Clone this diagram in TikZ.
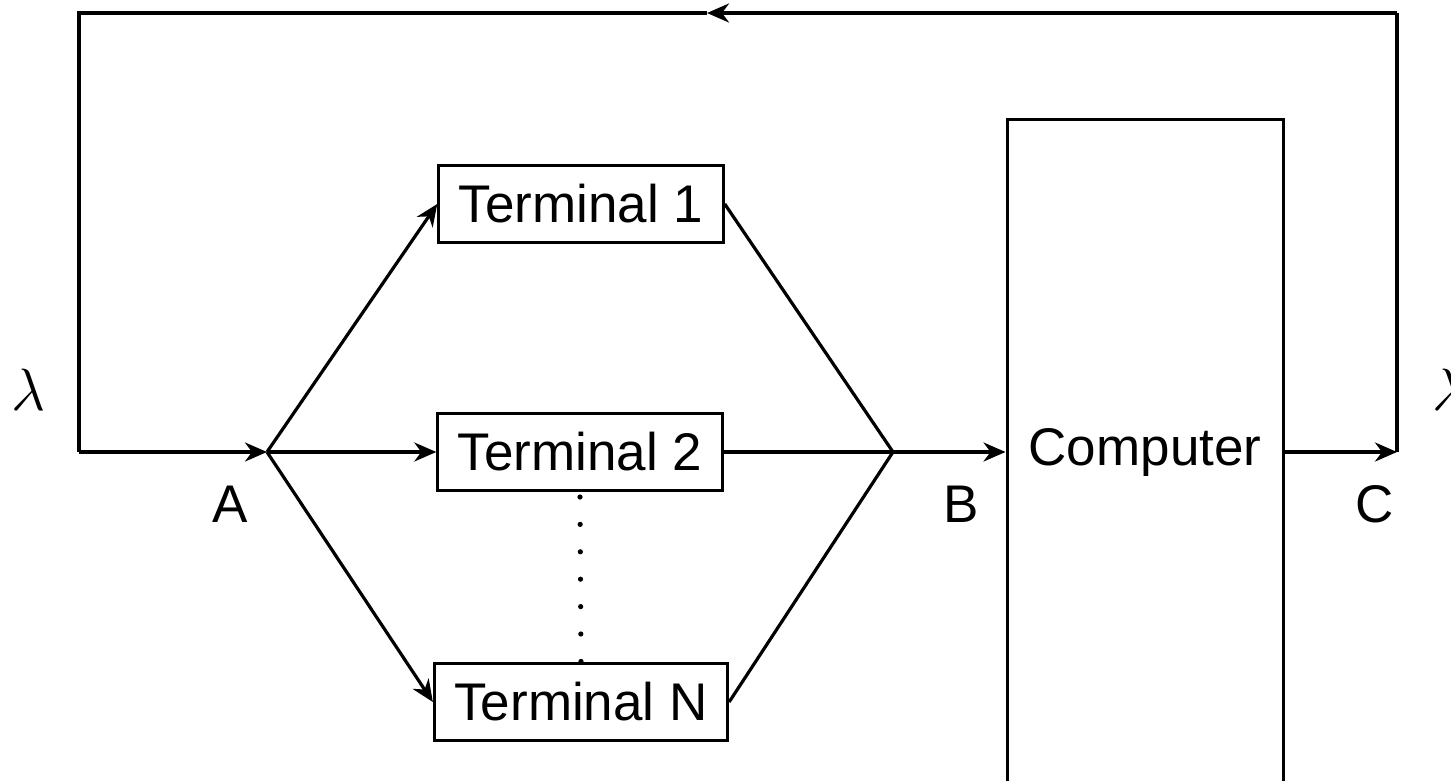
\documentclass[tikz,border=0pt]{standalone}
\usepackage{graphicx}
\usepackage{fontspec}
\setmainfont{Liberation Sans}
\usetikzlibrary{arrows.meta,calc}
\tikzset{
    term/.style =   {rectangle,
                    fill=white,
                    draw=black,
                    text=black,
                    line width=1.5pt,
                    inner xsep=10pt,
                    minimum height=38.5pt},
    comp/.style =   {rectangle,
                    draw=black,
                    text=black,
                    line width=1.5pt,
                    minimum width=138pt,
                    minimum height=332pt},
    lbl/.style =    {text=black,
                    inner sep=0pt},
    -,
    >={Stealth[length=11pt,width=9.5pt,inset=3.5pt]},
    draw=black}
\newcommand{\arrivrate}{\scalebox{1.2}{$\lambda$}}

\begin{document}
\begin{tikzpicture}[x=0.5pt,y=-0.5pt,line width=1.6pt,
                    every node/.style={font=\fontsize{26.5pt}{32pt}\selectfont}]
                \useasboundingbox (0,0) rectangle (1451,781);
                \coordinate         (A) at (267,452);
                \coordinate         (B) at (893,452);
                \coordinate         (TL) at (79,13);
                \coordinate         (BL) at (79,452);
                \coordinate         (TR) at (1397,13);
                \coordinate         (C) at (1397,452);
                \coordinate         (M) at (707,13);
                \node[term]         (T1) at (581,204)       {Terminal 1};
                \node[term]         (T2) at (580,452)       {Terminal 2};
                \node[term]         (TN) at (581,702)       {Terminal N};
                \node[comp]         (PC) at (1145,452)      {Computer};
                \node[lbl]          (la) at (29,390)        {\arrivrate};
                \node[lbl]          (lb) at (1450,390)      {\arrivrate};
                \node[lbl]          (nA) at (230,504)       {A};
                \node[lbl]          (nB) at (961,504)       {B};
                \node[lbl]          (nC) at (1375,504)      {C};
                \path [->]  (BL) edge (A)
                            (A) edge (T1.west)
                            (A) edge (T2.west)
                            (A) edge (TN.west)
                            (B) edge (PC.west)
                            (PC.east) edge (C)
                            (TR) edge (M);
                \draw (T1.east) -- (B) -- (TN.east);
                \draw (T2.east) -- (B);
                \draw (C) -- (TR);
                \draw (M) -- (TL) -- (BL);
                \draw [line width=2.6pt,line cap=round,dash pattern=on 0pt off 13.7pt]
                      ($(T2.south)+(0,5)$) -- (TN.north);
        \end{tikzpicture}
\end{document}
